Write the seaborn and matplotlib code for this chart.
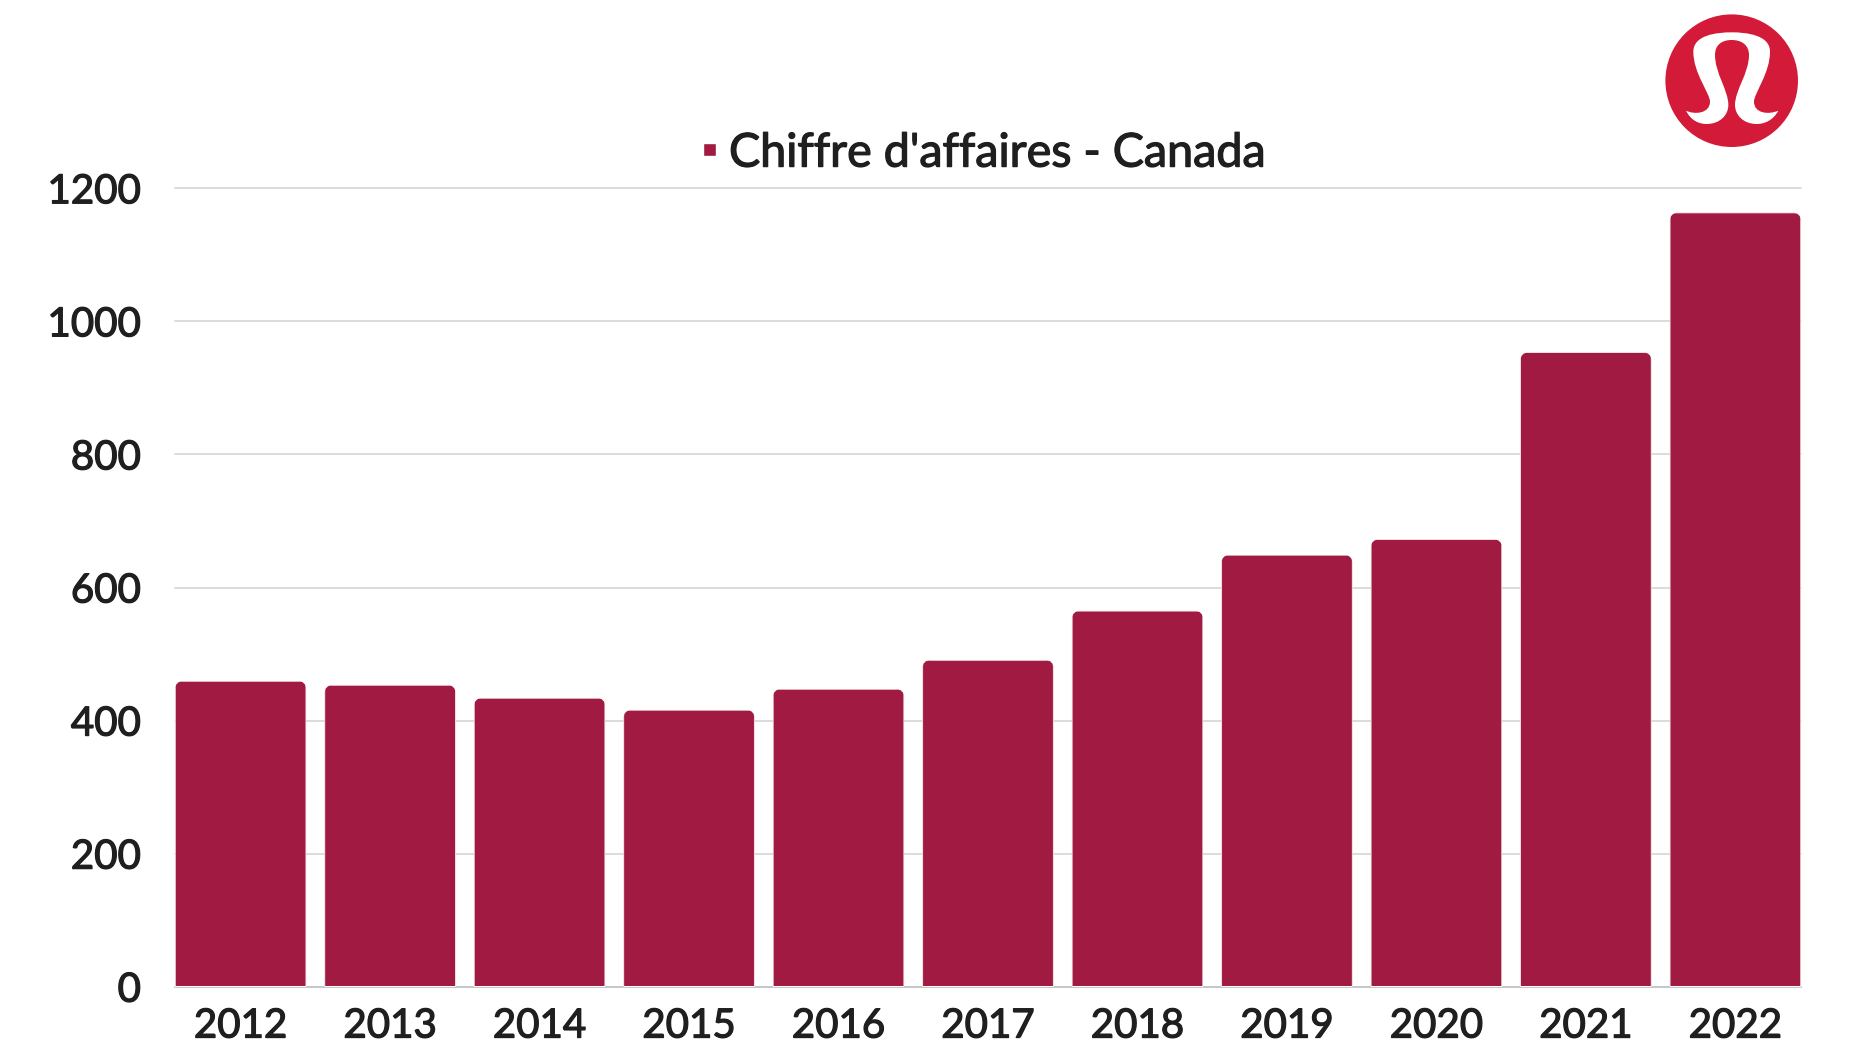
"""Chiffre d'affaires Canada, bar chart with logo."""

import matplotlib
matplotlib.use("Agg")
import matplotlib.patheffects as pe
import matplotlib.pyplot as plt
import seaborn as sns
from matplotlib.patches import Circle, FancyBboxPatch, PathPatch
from matplotlib.path import Path

years = ["2012", "2013", "2014", "2015", "2016", "2017", "2018", "2019", "2020", "2021", "2022"]
revenue = [459.5, 453.5, 434, 416, 447.5, 491, 565, 649, 672.5, 953.5, 1163.5]
y_ticks = [0, 200, 400, 600, 800, 1000, 1200]
series_name = "Chiffre d'affaires - Canada"

BAR_COLOR = "#A11A41"
LOGO_RED = "#D31A38"
TEXT_COLOR = "#1F1F1F"
W, H = 1874, 1060

sns.set_theme(style="white")
plt.rcParams["font.family"] = ["Lato", "DejaVu Sans"]

fig = plt.figure(figsize=(W / 100, H / 100), dpi=100, facecolor="white")
ax = fig.add_axes([175 / W, 1 - 986.7 / H, (1801 - 175) / W, (986.7 - 188.3) / H])

ax.set_axisbelow(True)
ax.yaxis.grid(True, color="#D2D2D2", linewidth=1.1)
ax.xaxis.grid(False)
sns.barplot(x=years, y=revenue, color=BAR_COLOR, saturation=1, width=0.878,
            label=series_name, ax=ax)

ax.set_xlim(-0.439, 10.439)
ax.set_ylim(0, 1200)
ax.set_yticks(y_ticks)
ax.tick_params(axis="y", length=0, pad=24.5, labelsize=29, labelcolor=TEXT_COLOR)
ax.tick_params(axis="x", length=0, pad=15, labelsize=29, labelcolor=TEXT_COLOR)
# Lato has no medium weight here, so thicken the regular one a little
heavier = [pe.withStroke(linewidth=0.9, foreground=TEXT_COLOR)]
for label in ax.get_xticklabels() + ax.get_yticklabels():
    label.set_path_effects(heavier)
for spine in ax.spines.values():
    spine.set_visible(False)
ax.axhline(0, color="#8A8A8A", linewidth=1.1, zorder=0.5, clip_on=False)
for line in ax.get_ygridlines():
    line.set_clip_on(False)

# round the top corners of the bars
px_x = (1801 - 175) / (10.439 + 0.439)
px_y = (986.7 - 188.3) / 1200
for bar in ax.patches:
    x0, top, w = bar.get_x(), bar.get_height(), bar.get_width()
    clip = FancyBboxPatch((x0, -100), w, top + 100,
                          boxstyle=f"round,pad=0,rounding_size={9 / px_x}",
                          mutation_aspect=px_x / px_y,
                          transform=ax.transData, facecolor="none", edgecolor="none")
    bar.set_clip_path(clip)
    bar.set_snap(False)

leg = ax.legend(loc="center", bbox_to_anchor=((983.5 - 175) / (1801 - 175), (986.7 - 153.6) / (986.7 - 188.3)),
                frameon=False, fontsize=33.6, handlelength=0.28, handleheight=0.054,
                handletextpad=0.28, borderpad=0, borderaxespad=0)
for text in leg.get_texts():
    text.set_color(TEXT_COLOR)
    text.set_path_effects(heavier)

# logo, traced in pixel coordinates on an overlay
overlay = fig.add_axes([0, 0, 1, 1], zorder=5)
overlay.set_xlim(0, W)
overlay.set_ylim(H, 0)
overlay.axis("off")
overlay.patch.set_alpha(0)
overlay.add_patch(Circle((1731.7, 80.7), 66.3, facecolor=LOGO_RED, edgecolor="none"))

outline = [
    (258, 332),
    (285, 345), (330, 340), (330, 305),
    (330, 280), (280, 220), (280, 155),
    (280, 105), (350, 97), (395, 97),
    (440, 97), (510, 105), (510, 155),
    (510, 220), (462, 280), (462, 305),
    (462, 340), (505, 345), (535, 332),
    (520, 360), (495, 372), (470, 372),
    (430, 372), (405, 345), (405, 315),
    (405, 270), (447, 220), (447, 165),
    (447, 135), (425, 120), (395, 120),
    (365, 120), (345, 135), (345, 165),
    (345, 220), (385, 270), (385, 315),
    (385, 345), (360, 372), (320, 372),
    (295, 372), (272, 360), (258, 332),
]
verts = [(1600 + x / 3, y / 3) for x, y in outline]
codes = [Path.MOVETO] + [Path.CURVE4] * (len(verts) - 1)
overlay.add_patch(PathPatch(Path(verts, codes), facecolor="white", edgecolor="none"))

fig.savefig("out.png", dpi=100)
